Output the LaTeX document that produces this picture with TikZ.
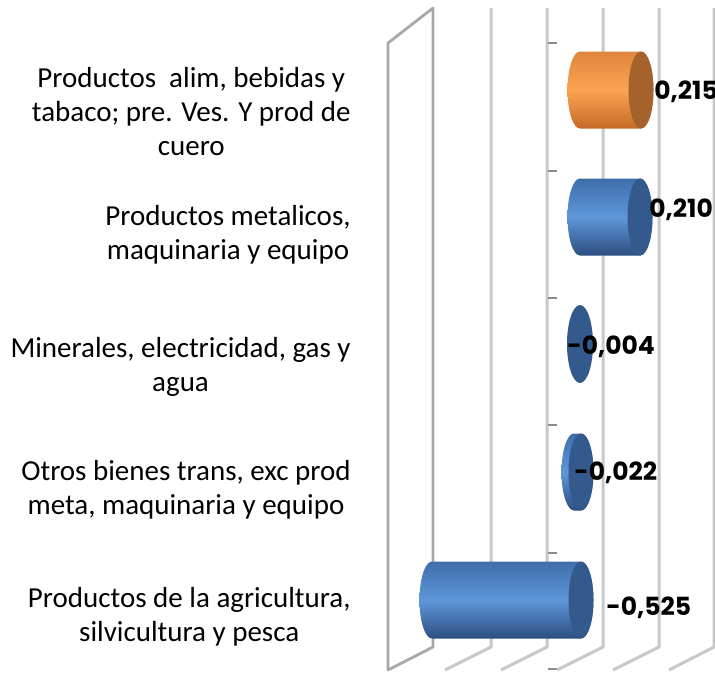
\documentclass[tikz,border=0pt]{standalone}
\usepackage{fontspec}
\usepackage{xcolor}
\newfontfamily\lblfont{Carlito}
\newfontfamily\valfont{Poppins}
\definecolor{blueTop}{HTML}{3F6DAA}
\definecolor{blueMid}{HTML}{5E97DA}
\definecolor{blueBot}{HTML}{2C4E80}
\definecolor{blueFace}{HTML}{34598C}
\definecolor{orTop}{HTML}{DE853C}
\definecolor{orMid}{HTML}{FBA452}
\definecolor{orBot}{HTML}{C46A27}
\definecolor{orFace}{HTML}{A6622C}
\definecolor{gridgray}{HTML}{C8C8C8}
\definecolor{wallgray}{HTML}{A8A8A8}
\definecolor{tickgray}{HTML}{8C8C8C}

\begin{document}
\begin{tikzpicture}[x=0.5pt,y=-0.5pt,
  grid/.style={gridgray,line width=1.5pt},
  wall/.style={wallgray,line width=1.4pt,line join=round},
  tickmark/.style={tickgray,line width=1.2pt},
  bluebody/.style={top color=blueTop,bottom color=blueBot,middle color=blueMid},
  blueface/.style={fill=blueFace},
  orbody/.style={top color=orTop,bottom color=orBot,middle color=orMid},
  orface/.style={fill=orFace},
  cat/.style={font=\lblfont\fontsize{14.5}{17}\selectfont,align=center,anchor=east,inner sep=0pt},
  val/.style={font=\valfont\bfseries\fontsize{12.5}{14}\selectfont,anchor=west,inner sep=0pt}]
\useasboundingbox (0,0) rectangle (715,680);
% walls and gridlines
\draw[grid](491,8)--(491,647)--(445,670);
\draw[grid](547,8)--(547,647)--(501,670);
\draw[grid](603,8)--(603,647)--(557,670);
\draw[grid](659,8)--(659,647)--(613,670);
\draw[grid](714,8)--(714,647)--(669,670);
\draw[wall](388,670)--(388,43)--(433,8)--(433,647)--cycle;
%
\draw[tickmark](548,43)--(557,43);
\draw[tickmark](548,171)--(557,171);
\draw[tickmark](548,298)--(557,298);
\draw[tickmark](548,425)--(557,425);
\draw[tickmark](548,553)--(557,553);
\draw[tickmark](548,669)--(557,669);
% bars
\path[orbody](580,51.5)--(641,51.5) arc[start angle=-90,end angle=90,x radius=12.5,y radius=38.5]
  --(580,128.5) arc[start angle=90,end angle=270,x radius=12.5,y radius=38.5]--cycle;
\path[orface](641,90) ellipse[x radius=12.5,y radius=38.5];

\path[bluebody](580,178.5)--(640,178.5) arc[start angle=-90,end angle=90,x radius=12.5,y radius=38.5]
  --(580,255.5) arc[start angle=90,end angle=270,x radius=12.5,y radius=38.5]--cycle;
\path[blueface](640,217) ellipse[x radius=12.5,y radius=38.5];

\path[blueface](580,344) ellipse[x radius=13,y radius=39];

\path[bluebody](574,433.5)--(581,433.5) arc[start angle=-90,end angle=90,x radius=12.5,y radius=38.5]
  --(574,510.5) arc[start angle=90,end angle=270,x radius=12.5,y radius=38.5]--cycle;
\path[blueface](581,472) ellipse[x radius=12.5,y radius=38.5];

\path[bluebody](432,561.5)--(581,561.5) arc[start angle=-90,end angle=90,x radius=12.5,y radius=38.5]
  --(432,638.5) arc[start angle=90,end angle=270,x radius=12.5,y radius=38.5]--cycle;
\path[blueface](581,600) ellipse[x radius=12.5,y radius=38.5];
% values
\node[val](valAlim) at (654,92){0,215};
\node[val](valMetal) at (649,210){0,210};
\node[val](valMiner) at (567,347){-0,004};
\node[val](valOtros) at (574,473){-0,022};
\node[val](valAgri) at (606,608){-0,525};
% categories
\node[cat](catAlim) at (351,112){Productos\ \ alim, bebidas y\\tabaco; pre. Ves. Y prod de\\cuero};
\node[cat](catMetal) at (351,235){Productos metalicos,\\maquinaria y equipo};
\node[cat](catMiner) at (351,367){Minerales, electricidad, gas y\\agua};
\node[cat](catOtros) at (351,490){Otros bienes trans, exc prod\\meta, maquinaria y equipo};
\node[cat](catAgri) at (351,617){Productos de la agricultura,\\silvicultura y pesca};
\end{tikzpicture}
\end{document}
